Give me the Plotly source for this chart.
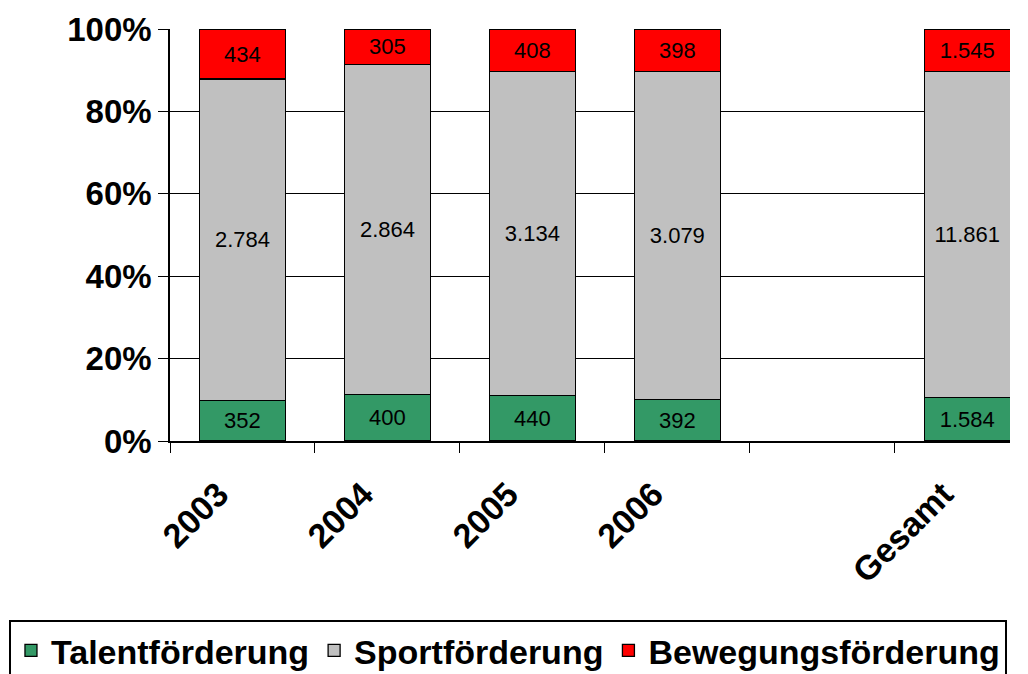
import plotly.graph_objects as go

categories = ["2003", "2004", "2005", "2006", " ", "Gesamt"]
talent = [352, 400, 440, 392, None, 1584]
sport = [2784, 2864, 3134, 3079, None, 11861]
bewegung = [434, 305, 408, 398, None, 1545]

y_ticks = [0, 20, 40, 60, 80, 100]

series_names = ["Talentförderung", "Sportförderung", "Bewegungsförderung"]
series_colors = ["#339966", "#C0C0C0", "#FF0000"]


def de_fmt(v):
    return "" if v is None else f"{v:,}".replace(",", ".")


fig = go.Figure()
for name, vals, col in zip(series_names, [talent, sport, bewegung], series_colors):
    fig.add_trace(go.Bar(
        x=categories, y=vals, name=name,
        marker=dict(color=col, line=dict(color="black", width=1.3)),
        text=[de_fmt(v) for v in vals],
        textposition="inside", insidetextanchor="middle",
        textfont=dict(family="Liberation Sans", size=22, color="black"),
        constraintext="none",
        width=0.593,
    ))

# The page body adds an 8px offset, so the figure is 8px smaller than the window
fig.update_layout(
    width=1020, height=666,
    barmode="stack", barnorm="percent",
    plot_bgcolor="white", paper_bgcolor="white",
    margin=dict(l=162, r=18, t=21, b=233, autoexpand=False),
    uniformtext=dict(minsize=22, mode="show"),
    font=dict(family="Liberation Sans", color="black"),
    xaxis=dict(
        type="category", range=[-0.5, 5.295], automargin=False,
        tickson="boundaries", ticks="outside", ticklen=10, tickwidth=1.3,
        tickcolor="black", tickangle=-45, ticklabelstandoff=18,
        ticklabelshift=-24,
        tickfont=dict(family="Liberation Sans", size=34, weight="bold"),
        showline=True, linecolor="black", linewidth=1.5, showgrid=False,
    ),
    yaxis=dict(
        range=[0, 100], tickmode="array", tickvals=y_ticks,
        ticktext=[f"{t}%" for t in y_ticks], automargin=False,
        ticks="outside", ticklen=10, tickwidth=1.3, tickcolor="black",
        tickfont=dict(family="Liberation Sans", size=33, weight="bold"),
        showgrid=True, gridcolor="black", gridwidth=1.3,
        showline=True, linecolor="black", linewidth=1.5, zeroline=False,
    ),
    legend=dict(
        orientation="h", x=-0.1917, xanchor="left", y=-0.434, yanchor="top",
        bordercolor="black", borderwidth=2,
        font=dict(family="Liberation Sans", size=34, weight="bold"),
        traceorder="normal", itemwidth=30,
    ),
)

fig.write_html("out.html")
